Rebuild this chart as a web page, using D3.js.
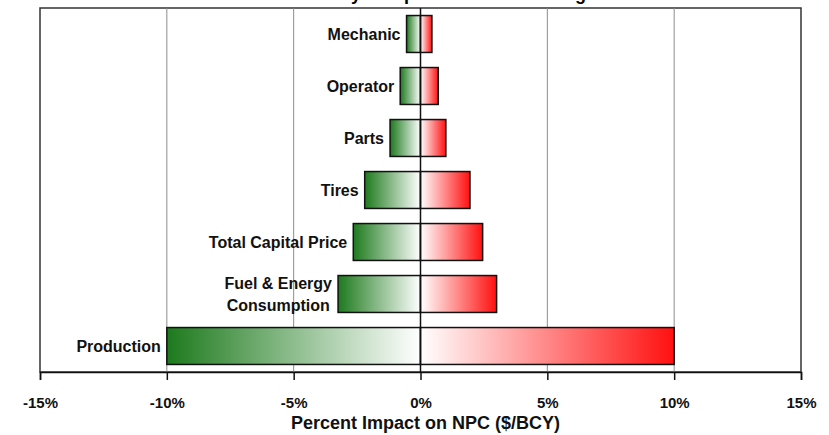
<!DOCTYPE html>
<html>
<head>
<meta charset="utf-8">
<script src="https://cdn.jsdelivr.net/npm/d3@7"></script>
<style>
  body { margin: 0; background: #fff; }
  text { font-family: Arial, "Liberation Sans", sans-serif; }
</style>
</head>
<body>
<script>
// données
var categories = ["Mechanic", "Operator", "Parts", "Tires", "Total Capital Price", "Fuel & Energy\nConsumption", "Production"];
var lowValues = [-0.55, -0.8, -1.2, -2.2, -2.65, -3.25, -10];
var highValues = [0.45, 0.7, 1.0, 1.95, 2.45, 3.0, 10];
var tickValues = [-15, -10, -5, 0, 5, 10, 15];
var gridValues = [-10, -5, 5, 10];
var chartTitle = "NPC Sensitivity to Input Parameter Change";
var axisTitle = "Percent Impact on NPC ($/BCY)";

var width = 829, height = 435;
var plotLeft = 40, plotRight = 801, plotTop = 8, plotBottom = 372;

var svg = d3.select("body")
    .append("svg")
    .attr("width", width)
    .attr("height", height);

var defs = svg.append("defs");
var gGreen = defs.append("linearGradient").attr("id", "gGreen");
gGreen.append("stop").attr("offset", "0%").attr("stop-color", "#1d7a1d");
gGreen.append("stop").attr("offset", "100%").attr("stop-color", "#ffffff");
var gRed = defs.append("linearGradient").attr("id", "gRed");
gRed.append("stop").attr("offset", "0%").attr("stop-color", "#ffffff");
gRed.append("stop").attr("offset", "100%").attr("stop-color", "#ff1010");

var x = d3.scaleLinear().domain([-15, 15]).range([plotLeft, plotRight]);
var y = d3.scaleBand().domain(categories).range([plotTop, plotBottom])
    .paddingInner(0.29).paddingOuter(0.145);

// titre (coupé en haut)
svg.append("text")
    .attr("x", 412)
    .attr("y", -0.5)
    .attr("text-anchor", "middle")
    .style("font-size", "18px")
    .style("font-weight", "bold")
    .text(chartTitle);

// cadre
svg.append("rect")
    .attr("x", plotLeft).attr("y", plotTop)
    .attr("width", plotRight - plotLeft).attr("height", plotBottom - plotTop)
    .attr("fill", "none").attr("stroke", "#333").attr("stroke-width", 1.5);

// grille
svg.selectAll("line.grid")
    .data(gridValues)
    .enter().append("line")
    .attr("class", "grid")
    .attr("x1", function(d) { return x(d); })
    .attr("x2", function(d) { return x(d); })
    .attr("y1", plotTop).attr("y2", plotBottom)
    .attr("stroke", "#8c8c8c").attr("stroke-width", 1);

var rows = categories.map(function(c, i) {
    return { name: c, low: lowValues[i], high: highValues[i] };
});

// barres négatives (vert)
svg.selectAll("rect.low")
    .data(rows)
    .enter().append("rect")
    .attr("class", "low")
    .attr("x", function(d) { return x(d.low); })
    .attr("y", function(d) { return y(d.name); })
    .attr("width", function(d) { return x(0) - x(d.low); })
    .attr("height", y.bandwidth())
    .attr("fill", "url(#gGreen)")
    .attr("stroke", "#111").attr("stroke-width", 1.5);

// barres positives (rouge)
svg.selectAll("rect.high")
    .data(rows)
    .enter().append("rect")
    .attr("class", "high")
    .attr("x", x(0))
    .attr("y", function(d) { return y(d.name); })
    .attr("width", function(d) { return x(d.high) - x(0); })
    .attr("height", y.bandwidth())
    .attr("fill", "url(#gRed)")
    .attr("stroke", "#111").attr("stroke-width", 1.5);

// ligne zéro
svg.append("line")
    .attr("x1", x(0)).attr("x2", x(0))
    .attr("y1", plotTop).attr("y2", plotBottom)
    .attr("stroke", "#111").attr("stroke-width", 1.5);

// étiquettes
rows.forEach(function(d) {
    var lines = d.name.split("\n");
    var cy = y(d.name) + y.bandwidth() / 2;
    var t = svg.append("text")
        .attr("text-anchor", "middle")
        .style("font-size", "16px")
        .style("font-weight", "bold")
        .attr("fill", "#111");
    lines.forEach(function(l, j) {
        t.append("tspan")
            .attr("x", 0)
            .attr("y", cy + 6 + (j - (lines.length - 1) / 2) * 22)
            .text(l);
    });
    var w = t.node().getBBox().width;
    t.attr("transform", "translate(" + (x(d.low) - 6 - w / 2) + ",0)");
});

// axe
var axis = svg.append("g")
    .attr("transform", "translate(0," + plotBottom + ")")
    .call(d3.axisBottom(x).tickValues(tickValues).tickSize(8).tickPadding(17)
        .tickFormat(function(d) { return d + "%"; }));
axis.selectAll("path, line").attr("stroke", "#111").attr("stroke-width", 1.5);
axis.selectAll("text")
    .style("font-size", "15px")
    .style("font-weight", "bold")
    .attr("fill", "#111");

svg.append("text")
    .attr("x", x(0) + 5)
    .attr("y", 429)
    .attr("text-anchor", "middle")
    .style("font-size", "18px")
    .style("font-weight", "bold")
    .attr("fill", "#111")
    .text(axisTitle);
</script>
</body>
</html>
